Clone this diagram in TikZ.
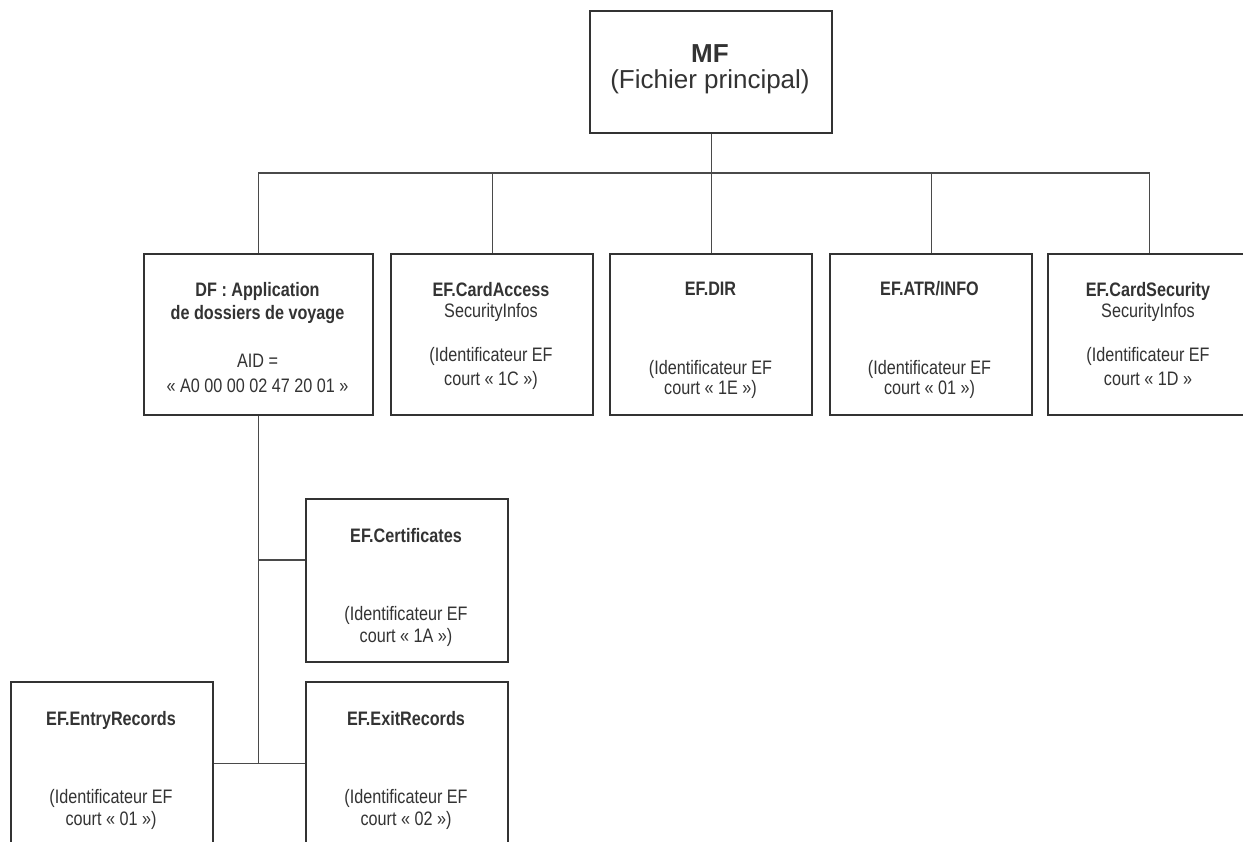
\documentclass[tikz,border=0pt]{standalone}
\usepackage{fontspec}
\setmainfont{Liberation Sans}
\newfontfamily\narrowfont[FakeStretch=0.83]{Liberation Sans}
\definecolor{boxc}{HTML}{333333}
\definecolor{linec}{HTML}{4A4A4A}
\definecolor{txtc}{HTML}{333333}
\tikzset{
  filebox/.style={draw=boxc, line width=2.2pt, anchor=north west, inner sep=0pt, minimum width=#1},
  filebox/.default=202pt,
  conn/.style={draw=linec, line width=1.1pt},
  ln/.style={anchor=base, inner sep=0pt, text=txtc, font=\narrowfont\fontsize{19.5}{22}\selectfont},
  lnb/.style={ln, font=\narrowfont\fontsize{19.5}{22}\selectfont\bfseries},
}
\begin{document}
\begin{tikzpicture}[x=1pt,y=-1pt]
\clip (0,0) rectangle (1243,842);
\fill[white] (0,0) rectangle (1243,842);
% boxes
\node[filebox=242pt, minimum height=122pt] (mf) at (589,10) {};
\node[filebox=229pt, minimum height=161pt] (df) at (143,253) {};
\node[filebox, minimum height=161pt] (ca) at (390,253) {};
\node[filebox, minimum height=161pt] (dir) at (609,253) {};
\node[filebox, minimum height=161pt] (atr) at (829,253) {};
\node[filebox, minimum height=161pt] (cs) at (1047,253) {};
\node[filebox, minimum height=163pt] (cert) at (305,498) {};
\node[filebox, minimum height=163pt] (entry) at (10,681) {};
\node[filebox, minimum height=163pt] (exit) at (305,681) {};
% connectors
\coordinate (bus) at (0,173);
\coordinate (jc) at (258,560);
\draw[conn] (mf.south) -- (mf.south |- bus);
\draw[conn] (df.north) -- (df.north |- bus) -- (cs.north |- bus) -- (cs.north);
\draw[conn] (ca.north) -- (ca.north |- bus);
\draw[conn] (dir.north) -- (dir.north |- bus);
\draw[conn] (atr.north) -- (atr.north |- bus);
\draw[conn] (df.south) -- (df.south |- entry.east);
\draw[conn] (jc) -- (jc -| cert.west);
\draw[conn] (entry.east) -- (exit.west);
% texts
\node[ln, font=\fontsize{26}{28}\selectfont\bfseries] (mf1) at (710,63) {MF};
\node[ln, font=\fontsize{26}{28}\selectfont] (mf2) at (710,88.5) {(Fichier principal)};

\node[lnb] (df1) at (257.5,297) {DF : Application};
\node[lnb] (df2) at (257.5,320) {de dossiers de voyage};
\node[ln] (df3) at (257.5,368) {AID =};
\node[ln] (df4) at (257.5,392) {« A0 00 00 02 47 20 01 »};

\node[lnb] (ca1) at (491,297) {EF.CardAccess};
\node[ln] (ca2) at (491,318) {SecurityInfos};
\node[ln] (ca3) at (491,362) {(Identificateur EF};
\node[ln] (ca4) at (491,385) {court « 1C »)};

\node[lnb] (dir1) at (710.5,296) {EF.DIR};
\node[ln] (dir2) at (710.5,374) {(Identificateur EF};
\node[ln] (dir3) at (710.5,395) {court « 1E »)};

\node[lnb] (atr1) at (929.5,296) {EF.ATR/INFO};
\node[ln] (atr2) at (929.5,374) {(Identificateur EF};
\node[ln] (atr3) at (929.5,395) {court « 01 »)};

\node[lnb] (cs1) at (1148,297) {EF.CardSecurity};
\node[ln] (cs2) at (1148,318) {SecurityInfos};
\node[ln] (cs3) at (1148,362) {(Identificateur EF};
\node[ln] (cs4) at (1148,385) {court « 1D »};

\node[lnb] (ce1) at (406,542) {EF.Certificates};
\node[ln] (ce2) at (406,620) {(Identificateur EF};
\node[ln] (ce3) at (406,642) {court « 1A »)};

\node[lnb] (en1) at (111,725) {EF.EntryRecords};
\node[ln] (en2) at (111,803) {(Identificateur EF};
\node[ln] (en3) at (111,825) {court « 01 »)};

\node[lnb] (ex1) at (406,725) {EF.ExitRecords};
\node[ln] (ex2) at (406,803) {(Identificateur EF};
\node[ln] (ex3) at (406,825) {court « 02 »)};
\end{tikzpicture}
\end{document}
